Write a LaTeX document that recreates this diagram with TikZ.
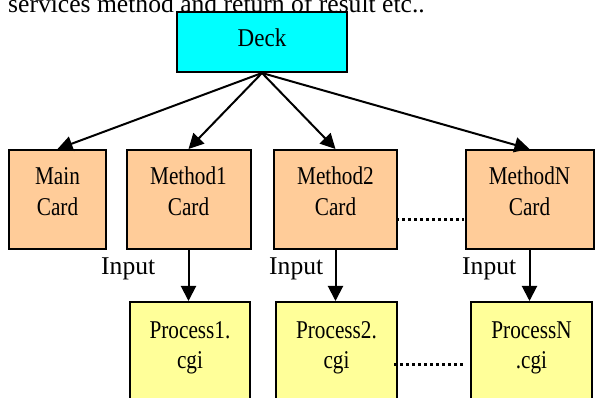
\documentclass[tikz,border=0pt]{standalone}
\usepackage{fontspec}
\setmainfont{Liberation Serif}
\newfontfamily\cardfont[FakeStretch=0.83]{Liberation Serif}
\newfontfamily\deckfont[FakeStretch=0.9]{Liberation Serif}
\usetikzlibrary{arrows.meta}
\definecolor{deckcyan}{RGB}{0,255,255}
\definecolor{cardpeach}{RGB}{255,204,153}
\definecolor{cgiyellow}{RGB}{255,255,153}
\tikzset{
  box/.style={draw=black, line width=2pt, inner sep=0pt},
  deckbox/.style={box, fill=deckcyan},
  cardbox/.style={box, fill=cardpeach},
  cgibox/.style={box, fill=cgiyellow},
  boxtext/.style={anchor=base, align=center, inner sep=0pt,
    font=\cardfont\fontsize{25.6}{30.5}\selectfont},
  plain/.style={anchor=base, inner sep=0pt,
    font=\fontsize{25.6}{30.5}\selectfont},
  link/.style={line width=2pt, -{Triangle[length=15pt,width=15pt]}},
  dots/.style={line width=3pt, dash pattern=on 3pt off 3pt}
}
\begin{document}
\begin{tikzpicture}[x=1pt, y=-1pt]
\useasboundingbox (0,0) rectangle (595,398);
\clip (0,0) rectangle (595,398);

% caption line above the diagram (cut at the top edge)
\node[plain, anchor=base west] (caption) at (8,13) {services method and return of result etc..};

% root
\node[deckbox, minimum width=170pt, minimum height=60pt] (deck) at (262,42) {};
\node[boxtext, font=\deckfont\fontsize{25.6}{30.5}\selectfont] (deckt) at (262,47) {Deck};

% cards (text anchored at the baseline of its last line)
\node[cardbox, minimum width=97pt,  minimum height=99pt] (main) at (57.5,199.5) {};
\node[cardbox, minimum width=124pt, minimum height=99pt] (m1)   at (188.5,199.5) {};
\node[cardbox, minimum width=123pt, minimum height=99pt] (m2)   at (335.5,199.5) {};
\node[cardbox, minimum width=128pt, minimum height=99pt] (mn)   at (529.5,199.5) {};

\node[boxtext] (maint) at (57.5,215.5) {Main\\Card};
\node[boxtext] (m1t)   at (188.5,215.5) {Method1\\Card};
\node[boxtext] (m2t)   at (335.5,215.5) {Method2\\Card};
\node[boxtext] (mnt)   at (529.5,215.5) {MethodN\\Card};

% cgi processes
\node[cgibox, minimum width=120pt, minimum height=110pt] (p1) at (190,357) {};
\node[cgibox, minimum width=121pt, minimum height=110pt] (p2) at (336.5,357) {};
\node[cgibox, minimum width=121pt, minimum height=110pt] (pn) at (531.5,357) {};

\node[boxtext] (p1t) at (190,368.5)   {Process1.\\cgi};
\node[boxtext] (p2t) at (336.5,368.5) {Process2.\\cgi};
\node[boxtext] (pnt) at (531.5,368.5) {ProcessN\\.cgi};

% deck to cards
\foreach \c in {main,m1,m2,mn}
  \draw[link] (deck.south) -- (\c.north);

% cards to processes, straight down
\draw[link] (m1.south) -- (m1.south |- p1.north);
\draw[link] (m2.south) -- (m2.south |- p2.north);
\draw[link] (mn.south) -- (mn.south |- pn.north);

\node[plain, anchor=base west] (in1) at (101,275) {Input};
\node[plain, anchor=base west] (in2) at (269,275) {Input};
\node[plain, anchor=base west] (in3) at (462,275) {Input};

% ellipsis between columns
\coordinate (d1a) at (396,219.5);
\coordinate (d1b) at (464,219.5);
\coordinate (d2a) at (394,365);
\coordinate (d2b) at (464,365);
\draw[dots] (d1a) -- (d1b);
\draw[dots] (d2a) -- (d2b);
\end{tikzpicture}
\end{document}
